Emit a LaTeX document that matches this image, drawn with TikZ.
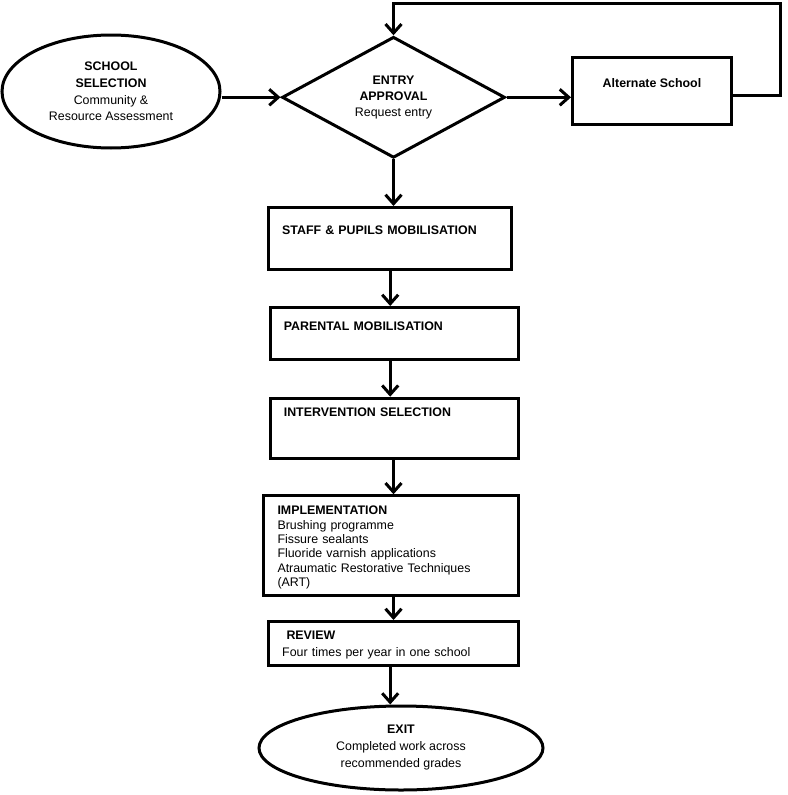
\documentclass[tikz,border=0pt]{standalone}
\usepackage{fontspec}
\setmainfont{Liberation Sans}
\usetikzlibrary{shapes.geometric, arrows.meta}
\tikzstyle{terminal} = [ellipse, draw=black, line width=3pt, inner sep=0pt, align=center]
\tikzstyle{decision} = [diamond, draw=black, line width=3pt, inner sep=0pt, aspect=1.8, align=center]
\tikzstyle{process} = [rectangle, draw=black, line width=3pt, anchor=north west, inner ysep=0pt, inner xsep=13.5pt, align=left]
\tikzstyle{arrow} = [line width=3pt, -{Straight Barb[length=9pt,width=16pt]}]

\begin{document}
\begin{tikzpicture}[x=1pt, y=-1pt, font=\fontsize{12.4}{16.7}\selectfont]
\useasboundingbox (0,0) rectangle (787,795);
\node (school) [terminal, minimum width=218pt, minimum height=113pt] at (111,91.5) {\textbf{SCHOOL}\\\textbf{SELECTION}\\Community \&\\Resource Assessment};
\node (entry) [decision, minimum width=223pt, minimum height=121pt, font=\fontsize{12.4}{16.2}\selectfont] at (393.5,97.3) {\textbf{ENTRY}\\\textbf{APPROVAL}\\Request entry};
\node (alt) [process, minimum width=159pt, inner xsep=0pt, text height=30.1pt, text depth=36.9pt, align=center] at (571,56) {\textbf{Alternate School}};
\node (staff) [process, text width=216pt, inner xsep=13.4pt, text height=26.7pt, text depth=35pt] at (267.3,206) {\textbf{STAFF \& PUPILS MOBILISATION}};
\node (parental) [process, text width=221pt, inner xsep=13.3pt, text height=23.4pt, text depth=28.1pt] at (269,306) {\textbf{PARENTAL MOBILISATION}};
\node (intervention) [process, text width=221pt, inner xsep=13.3pt, text height=18.7pt, text depth=41.3pt] at (269,396.7) {\textbf{INTERVENTION SELECTION}};
\node (implementation) [process, text width=227pt, inner xsep=13.7pt, text height=19.1pt, text depth=80.6pt, font=\fontsize{12.4}{14.3}\selectfont] at (262.3,494.3) {\textbf{IMPLEMENTATION}\\Brushing programme\\Fissure sealants\\Fluoride varnish applications\\Atraumatic Restorative Techniques\\(ART)};
\node (review) [process, text width=222pt, inner xsep=14pt, text height=17.7pt, text depth=26.6pt, font=\fontsize{12.4}{17.7}\selectfont] at (266.7,620) {\hspace{4.3pt}\textbf{REVIEW}\\Four times per year in one school};
\node (exit) [terminal, minimum width=284pt, minimum height=84pt, font=\fontsize{12.4}{17}\selectfont] at (401,748) {\textbf{EXIT}\\Completed work across\\recommended grades};
\coordinate (loopcorner) at (780,3.3);
% connectors
\draw [arrow] (entry.west -| school.east) -- (entry.west);
\draw [arrow] (entry.east) -- (entry.east -| alt.west);
\draw [arrow] ([yshift=-4.8pt]alt.east) -| (loopcorner) -| (entry.north);
\draw [arrow] (entry.south) -- (entry.south |- staff.north);
\draw [arrow] (staff.south) -- (staff.south |- parental.north);
\draw [arrow] (parental.south -| staff.south) -- (intervention.north -| staff.south);
\draw [arrow] (intervention.south -| entry.south) -- (implementation.north -| entry.south);
\draw [arrow] (implementation.south -| entry.south) -- (review.north -| entry.south);
\draw [arrow] (review.south -| staff.south) -- (exit.north -| staff.south);
\end{tikzpicture}
\end{document}
